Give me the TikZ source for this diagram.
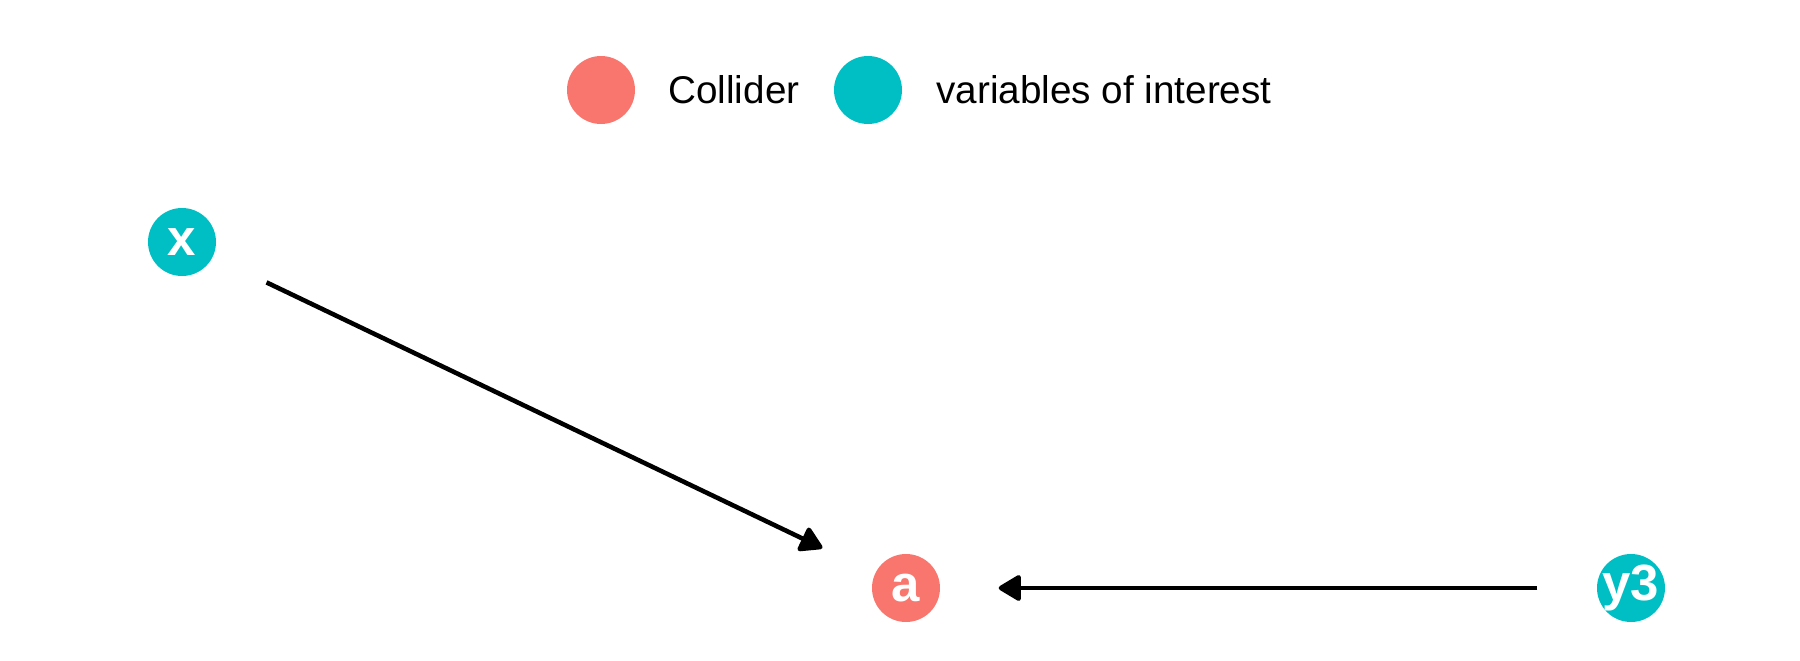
\documentclass[tikz,border=0pt]{standalone}
\usepackage{fontspec}
\setmainfont{Liberation Sans}
\usetikzlibrary{positioning, arrows.meta}
\definecolor{colliderred}{HTML}{F8766D}
\definecolor{interestteal}{HTML}{00BFC4}
\tikzset{%
  var/.style={circle, minimum size=0.68cm, inner sep=-2.5pt, text=white,
    font=\fontsize{14.5}{14.5}\selectfont\bfseries}, % the dag nodes
  collider/.style={var, fill=colliderred},
  interest/.style={var, fill=interestteal},
  legend text/.style={inner sep=0pt, anchor=west, font=\fontsize{11}{12}\selectfont},
  every edge/.style={%
    draw, line width=1.3pt, -{Triangle[length=7pt, width=8pt, round]},
    shorten <=0.59cm, shorten >=0.58cm
  }
}

\begin{document}
\begin{tikzpicture}
    \useasboundingbox (0,0) rectangle (18,6.6);
    % legend
    \node[collider] (legc) at (6.01,5.70) {};
    \node[legend text, right=0.32cm of legc] (legctext) {Collider};
    \node[interest] (legi) at (8.68,5.70) {};
    \node[legend text, right=0.33cm of legi] (legitext) {variables of interest};
    % dag
    \node[interest] (x) at (1.82,4.18) {x};
    \node[collider] (a) at (9.06,0.72) {a};
    \node[interest] (y3) at (16.31,0.72) {y3};
    \draw (x) edge (a);
    \draw (y3) edge (a);
\end{tikzpicture}
\end{document}
